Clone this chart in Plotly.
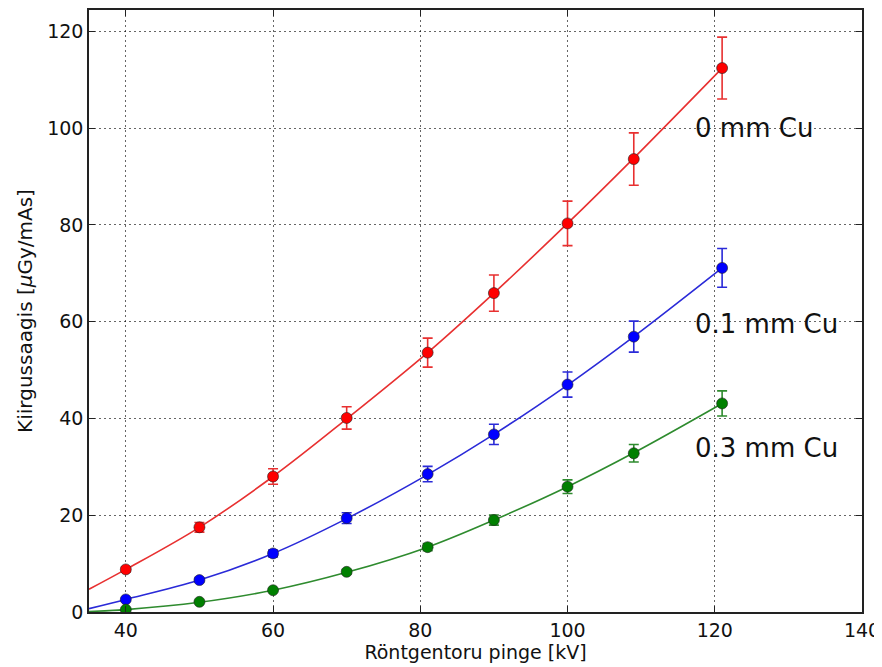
import plotly.graph_objects as go

# Measured data
kv = [40, 50, 60, 70, 81, 90, 100, 109, 121]
dose_0mm = [8.8, 17.5, 28.0, 40.1, 53.6, 65.9, 80.3, 93.6, 112.4]
err_0mm = [0.5, 1.0, 1.6, 2.3, 3.0, 3.75, 4.6, 5.4, 6.4]
dose_01mm = [2.6, 6.6, 12.1, 19.4, 28.5, 36.7, 47.0, 56.9, 71.1]
err_01mm = [0.15, 0.4, 0.7, 1.1, 1.6, 2.1, 2.6, 3.2, 4.0]
dose_03mm = [0.5, 2.1, 4.5, 8.3, 13.4, 19.0, 25.9, 32.8, 43.1]
err_03mm = [0.03, 0.1, 0.25, 0.45, 0.75, 1.05, 1.4, 1.8, 2.6]

# Fit curves
fit_kv = [35, 40, 50, 60, 70, 81, 90, 100, 109, 121]
fit_0mm = [4.7, 8.8, 17.5, 28.0, 39.9, 53.6, 65.9, 80.3, 93.8, 112.4]
fit_01mm = [0.7, 2.6, 6.6, 12.1, 19.3, 28.4, 36.7, 46.9, 56.9, 71.1]
fit_03mm = [0.1, 0.5, 2.0, 4.5, 8.2, 13.4, 19.0, 25.9, 32.9, 43.1]

labels = ["0 mm Cu", "0.1 mm Cu", "0.3 mm Cu"]
label_x = [117.1, 117.1, 117.1]
label_y = [100.0, 59.5, 33.8]

series = [
    (dose_0mm, err_0mm, fit_0mm, "#ff0000", "#e83030"),
    (dose_01mm, err_01mm, fit_01mm, "#0000ff", "#2a2ad8"),
    (dose_03mm, err_03mm, fit_03mm, "#008000", "#2e8b2e"),
]

fig = go.Figure()
for vals, errs, fit, col, lcol in series:
    fig.add_trace(go.Scatter(
        x=fit_kv, y=fit, mode="lines",
        line=dict(color=lcol, width=1.6, shape="spline"),
        showlegend=False, hoverinfo="skip"))
for vals, errs, fit, col, lcol in series:
    fig.add_trace(go.Scatter(
        x=kv, y=vals, mode="markers",
        marker=dict(color=col, size=11, line=dict(color="#202020", width=0.6)),
        error_y=dict(type="data", array=errs, visible=True, color=lcol,
                     thickness=1.6, width=5),
        showlegend=False))

for t, x, y in zip(labels, label_x, label_y):
    fig.add_annotation(x=x, y=y, text=t, showarrow=False, xanchor="left",
                       yanchor="middle",
                       font=dict(family="DejaVu Sans", size=26, color="#111"))

axis_common = dict(
    showline=True, linecolor="#222", linewidth=1.6, mirror="ticks",
    ticks="inside", ticklen=6, tickcolor="#222", tickwidth=1,
    showgrid=True, gridcolor="rgba(0,0,0,0.6)", gridwidth=1, griddash="1.5px,3.5px",
    zeroline=False, automargin=False,
    tickfont=dict(family="DejaVu Sans", size=19, color="#111"),
)

fig.update_xaxes(range=[35, 140], tickvals=[40, 60, 80, 100, 120, 140],
                 title=dict(text="Röntgentoru pinge [kV]", standoff=2,
                            font=dict(family="DejaVu Sans", size=19, color="#111")),
                 **axis_common)
fig.update_yaxes(range=[0, 124.4], tickvals=[0, 20, 40, 60, 80, 100, 120],
                 title=dict(text="Kiirgussaagis [<i>μ</i>Gy/mAs]", standoff=9,
                            font=dict(family="DejaVu Sans", size=20, color="#111")),
                 **axis_common)

# the page body adds an 8px offset, so the figure is 8px smaller
fig.update_layout(
    width=874, height=659,
    margin=dict(l=81, r=20, t=2, b=55),
    paper_bgcolor="white", plot_bgcolor="white",
    font=dict(family="DejaVu Sans"),
)

fig.write_html("out.html")
